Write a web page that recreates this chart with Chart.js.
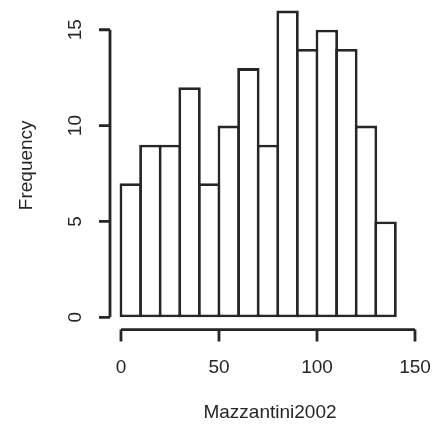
<!DOCTYPE html>
<html>
<head>
<meta charset="utf-8">
<script src="https://cdn.jsdelivr.net/npm/chart.js@4.4.1/dist/chart.umd.min.js"></script>
<style>
  html, body { margin: 0; padding: 0; background: #fff; }
  #wrap { width: 433px; height: 428px; }
</style>
</head>
<body>
<div id="wrap"><canvas id="hist" width="433" height="428"></canvas></div>
<script>
// histogram bins (mid points, width 10) and counts
const binMids = [5, 15, 25, 35, 45, 55, 65, 75, 85, 95, 105, 115, 125, 135];
const counts = [7, 9, 9, 12, 7, 10, 13, 9, 16, 14, 15, 14, 10, 5];
const xTicks = [0, 50, 100, 150];
const yTicks = [0, 5, 10, 15];
const xTitle = "Mazzantini2002";
const yTitle = "Frequency";

const ink = "#262626";
const lineW = 2.8;
const font = "19px 'Liberation Sans', Arial, sans-serif";

// R-style axes: lines only span the tick range, y labels turned sideways
const baseAxes = {
  id: "baseAxes",
  afterDraw(chart) {
    const ctx = chart.ctx;
    const xs = chart.scales.x, ys = chart.scales.y;
    const area = chart.chartArea;
    ctx.save();
    ctx.strokeStyle = ink;
    ctx.fillStyle = ink;
    ctx.lineWidth = lineW;
    ctx.lineCap = "butt";
    ctx.font = font;

    // y axis
    const yl = area.left;
    ctx.beginPath();
    ctx.moveTo(yl, ys.getPixelForValue(yTicks[0]));
    ctx.lineTo(yl, ys.getPixelForValue(yTicks[yTicks.length - 1]));
    yTicks.forEach(v => {
      const py = ys.getPixelForValue(v);
      ctx.moveTo(yl - 11, py);
      ctx.lineTo(yl, py);
    });
    ctx.stroke();
    ctx.textAlign = "center";
    ctx.textBaseline = "middle";
    yTicks.forEach(v => {
      ctx.save();
      ctx.translate(yl - 34, ys.getPixelForValue(v));
      ctx.rotate(-Math.PI / 2);
      ctx.fillText(String(v), 0, 0);
      ctx.restore();
    });

    // x axis
    const xb = area.bottom;
    ctx.beginPath();
    ctx.moveTo(xs.getPixelForValue(xTicks[0]), xb);
    ctx.lineTo(xs.getPixelForValue(xTicks[xTicks.length - 1]), xb);
    xTicks.forEach(v => {
      const px = xs.getPixelForValue(v);
      ctx.moveTo(px, xb);
      ctx.lineTo(px, xb + 12);
    });
    ctx.stroke();
    xTicks.forEach(v => {
      ctx.fillText(String(v), xs.getPixelForValue(v), xb + 38);
    });

    // titles
    ctx.fillText(xTitle, 270, 413);
    ctx.save();
    ctx.translate(27, (area.top + area.bottom) / 2);
    ctx.rotate(-Math.PI / 2);
    ctx.fillText(yTitle, 0, 0);
    ctx.restore();

    ctx.restore();
  }
};

new Chart(document.getElementById("hist"), {
  type: "bar",
  data: {
    datasets: [{
      data: binMids.map((m, i) => ({ x: m, y: counts[i] })),
      backgroundColor: "#fff",
      borderColor: ink,
      borderWidth: lineW,
      borderSkipped: false,
      inflateAmount: 0,
      barPercentage: 1.143,
      categoryPercentage: 1
    }]
  },
  options: {
    responsive: false,
    animation: false,
    layout: { padding: { left: 110, right: 18, top: 1, bottom: 98.4 } },
    plugins: { legend: { display: false }, tooltip: { enabled: false } },
    scales: {
      x: {
        type: "linear",
        display: false,
        offset: false,
        min: -5.6,
        max: 150,
        afterBuildTicks: s => { s.ticks = xTicks.map(v => ({ value: v })); }
      },
      y: {
        display: false,
        min: -0.64,
        max: 16.5,
        afterBuildTicks: s => { s.ticks = yTicks.map(v => ({ value: v })); }
      }
    }
  },
  plugins: [baseAxes]
});
</script>
</body>
</html>
